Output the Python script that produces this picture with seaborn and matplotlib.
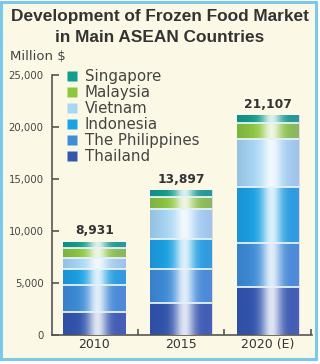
import numpy as np
import pandas as pd
import matplotlib
matplotlib.use("Agg")
import matplotlib.pyplot as plt
from matplotlib.patches import Rectangle
from matplotlib.lines import Line2D
import seaborn as sns

years = ["2010", "2015", "2020 (E)"]
totals = [8931, 13897, 21107]
thailand = [2200, 3050, 4640]
philippines = [2650, 3300, 4160]
indonesia = [1450, 2880, 5430]
vietnam = [1150, 2840, 4620]
malaysia = [930, 1200, 1500]
singapore = [551, 627, 757]

countries = ["Thailand", "The Philippines", "Indonesia", "Vietnam", "Malaysia", "Singapore"]
series = [thailand, philippines, indonesia, vietnam, malaysia, singapore]
colors = ["#3356ae", "#3f8dd8", "#1ca2e3", "#a8d7f4", "#8dc63f", "#139d8b"]

sns.set_theme(style="white")
plt.rcParams["font.family"] = ["DejaVu Sans"]

fig = plt.figure(figsize=(3.2, 3.64), dpi=100, facecolor="white")
bg = Rectangle((1 / 320, 1 - 359 / 364), 315 / 320, 357 / 364, transform=fig.transFigure,
               facecolor="#fbf9e6", edgecolor="#7cc8ec", lw=2.2, zorder=-10)
fig.patches.append(bg)

ax = fig.add_axes([52 / 320, 1 - 335 / 364, (312 - 52) / 320, (335 - 75) / 364])
ax.set_facecolor("none")

df = pd.DataFrame({"year": years})
cum = np.cumsum(np.array(series), axis=0)
width = 0.72
# draw stacked bars from the top level downward
for i in range(len(series) - 1, -1, -1):
    d = df.copy()
    d["value"] = cum[i]
    sns.barplot(data=d, x="year", y="value", color=colors[i], saturation=1,
                width=width, ax=ax, edgecolor="none", linewidth=0, zorder=2)

# gradient highlight, once per bar column (clipped to the full stacked bar)
outer = list(ax.patches)[:len(years)]
nx = 200
t = np.linspace(0, 1, nx)
alpha_w = 0.85 * np.exp(-((t - 0.55) / 0.16) ** 2)
grad = np.zeros((1, nx, 4))
grad[..., :3] = 1.0
grad[0, :, 3] = np.clip(alpha_w, 0, 1)
dark = np.zeros((1, nx, 4))
dark[..., 0] = 0.05
dark[..., 1] = 0.1
dark[..., 2] = 0.35
dark[0, :, 3] = 0.12 * np.clip(1 - t / 0.3, 0, 1)
purple = np.zeros((1, nx, 4))
purple[..., 0] = 0.55
purple[..., 1] = 0.5
purple[..., 2] = 0.85
purple[0, :, 3] = 0.25 * np.clip((t - 0.6) / 0.4, 0, 1)
for p in outer:
    x0, y0 = p.get_x(), p.get_y()
    w, h = p.get_width(), p.get_height()
    for img in (dark, purple, grad):
        im = ax.imshow(img, extent=[x0, x0 + w, y0, y0 + h], aspect="auto",
                       zorder=3, interpolation="bilinear")
        im.set_clip_path(p)

# thin light separators between segments
for j in range(len(years)):
    for i in range(len(series) - 1):
        ax.hlines(cum[i][j], j - width / 2, j + width / 2, color="#e6f2fa", lw=1.3, zorder=4)

for j, tot in enumerate(totals):
    ax.text(j, tot + 450, f"{tot:,}", ha="center", va="bottom", fontsize=8.8,
            fontweight="bold", color="#333333", zorder=5)

ax.set_xlim(-0.49, 2.51)
ax.set_ylim(0, 25000)
ax.set_yticks([0, 5000, 10000, 15000, 20000, 25000])
ax.set_yticklabels(["0", "5,000", "10,000", "15,000", "20,000", "25,000"])
ax.set_xlabel("")
ax.set_ylabel("")
for s in ["top", "right"]:
    ax.spines[s].set_visible(False)
for s in ["left", "bottom"]:
    ax.spines[s].set_color("#555555")
    ax.spines[s].set_linewidth(1.2)
ax.tick_params(axis="y", direction="in", length=5, width=1.2, color="#555555",
               labelsize=7.3, labelcolor="#444444", pad=6, left=True)
ax.tick_params(axis="x", length=0, labelsize=9, labelcolor="#333333", pad=2)
ax.set_xticks([0.5, 1.5, 2.5], minor=True)
ax.tick_params(axis="x", which="minor", direction="in", length=4, width=1.2, color="#555555", bottom=True)

fig.text(160 / 320, 1 - 17 / 364, "Development of Frozen Food Market", ha="center", va="center",
         fontsize=12.4, fontweight="bold", color="#333333", family="Liberation Sans")
fig.text(160 / 320, 1 - 38 / 364, "in Main ASEAN Countries", ha="center", va="center",
         fontsize=12.4, fontweight="bold", color="#333333", family="Liberation Sans")
fig.text(10 / 320, 1 - 57 / 364, "Million $", ha="left", va="center", fontsize=9.5,
         color="#444444")

handles = [Line2D([], [], marker="s", linestyle="none", markersize=7,
                  markerfacecolor=colors[i], markeredgecolor="none", label=countries[i])
           for i in range(len(series) - 1, -1, -1)]
leg = fig.legend(handles=handles, loc="upper left", bbox_to_anchor=(64 / 320, 1 - 69 / 364),
                 frameon=False, fontsize=10.8, labelspacing=0.07, handlelength=1.0,
                 handletextpad=0.4, borderpad=0, borderaxespad=0)
for txt in leg.get_texts():
    txt.set_color("#444444")

fig.savefig("out.png", dpi=100, facecolor="white")
